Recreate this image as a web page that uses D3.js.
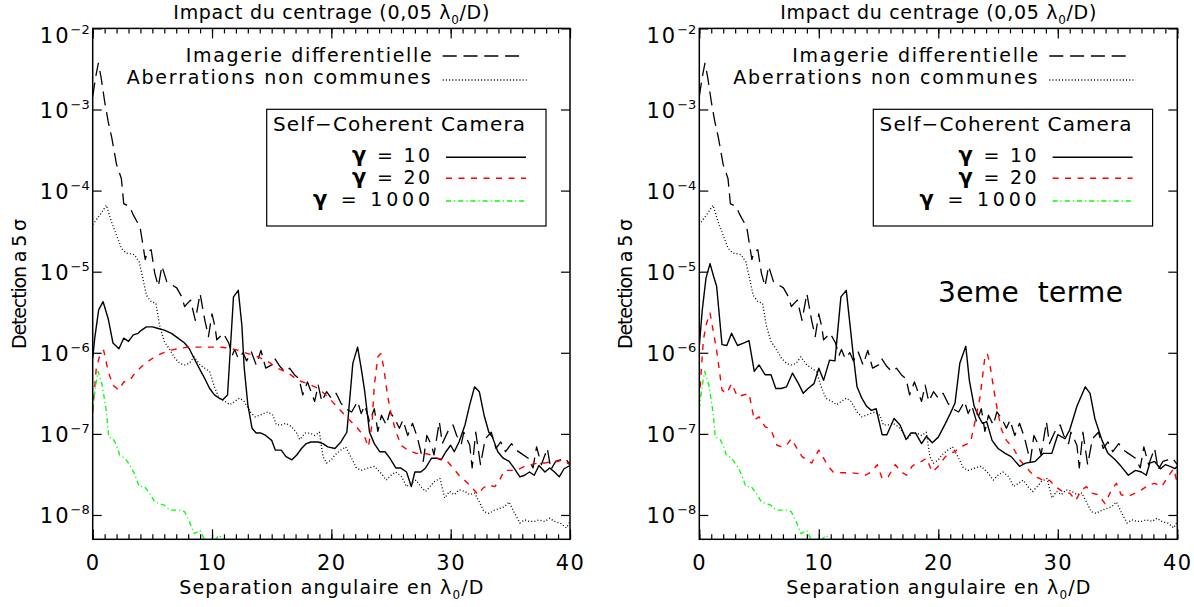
<!DOCTYPE html>
<html><head><meta charset="utf-8">
<script src="https://cdn.jsdelivr.net/npm/d3@7/dist/d3.min.js"></script>
<style>
body{margin:0;background:#fff}
text{font-family:"DejaVu Sans",sans-serif;fill:#000}
</style>
</head><body>
<svg id="c" width="1194" height="607" xmlns="http://www.w3.org/2000/svg"></svg>
<script>
// ---------------- DATA (values stored as log10 of detection level) ----------------
const xMajorTicks = [0, 10, 20, 30, 40];
const xTickLabels = ["0", "10", "20", "30", "40"];
const yDecades = [-2, -3, -4, -5, -6, -7, -8];
const yTickBase = "10";
const yTickExp = ["\u22122", "\u22123", "\u22124", "\u22125", "\u22126", "\u22127", "\u22128"];

// Imagerie differentielle (dashed black) - same in both panels
const diffX = [0,0.25,0.47,0.7,1.0,1.3,1.6,2.0,2.4,2.6,3.1,3.4,3.97,4.1,4.4,4.6,4.9,5.2,5.5,5.8,6.2,6.6,7.04,7.46,7.7,8.2,8.6,9.0,9.4,9.7,10.0,10.25,10.4,10.95,11.4,11.7,11.9,12.2,12.6,12.9,13.3,13.7,14.1,14.5,15.0,15.25,15.7,16.1,16.5,16.9,17.3,17.6,18.0,18.3,18.6,18.9,19.2,19.6,20.0,20.4,20.8,21.2,21.7,22.2,22.5,22.8,23.2,23.6,23.9,24.2,24.6,24.9,25.3,25.7,26.0,26.4,26.8,27.2,27.7,28.0,28.4,28.6,29.05,29.3,29.8,30.2,30.5,30.9,31.1,31.6,31.8,32.1,32.5,32.9,33.4,33.8,34.2,34.6,35.1,35.5,35.9,36.5,36.9,37.2,37.6,38.1,38.4,38.8,39.2,39.6,40];
const diffLog = [-2.84,-2.6,-2.43,-2.6,-2.9,-3.15,-3.35,-3.68,-3.85,-4.16,-4.2,-4.3,-4.45,-4.57,-4.85,-4.75,-4.73,-5.02,-5.18,-4.93,-5.12,-5.16,-5.2,-5.31,-5.43,-5.35,-5.6,-5.27,-5.6,-5.8,-5.52,-5.68,-5.84,-5.76,-5.88,-6.03,-5.96,-6.07,-6.0,-6.1,-5.99,-6.15,-5.97,-6.19,-6.15,-6.07,-6.17,-6.23,-6.19,-6.27,-6.32,-6.52,-6.36,-6.48,-6.6,-6.4,-6.6,-6.48,-6.56,-6.5,-6.62,-6.69,-6.73,-6.6,-6.75,-6.65,-6.85,-6.69,-6.97,-6.77,-6.89,-6.73,-6.81,-6.93,-6.83,-7.02,-6.87,-7.04,-7.34,-7.02,-7.14,-7.26,-6.85,-7.12,-6.96,-6.89,-7.02,-7.12,-6.98,-7.14,-7.42,-6.98,-7.38,-7.06,-6.98,-7.18,-7.1,-7.22,-7.12,-7.2,-7.24,-7.3,-7.42,-7.16,-7.38,-7.18,-7.44,-7.34,-7.32,-7.3,-7.38];

// Aberrations non communes (dotted black) - same in both panels
const ncpaX = [0,0.6,1.15,1.56,2.0,2.4,2.8,3.5,3.9,4.2,4.5,4.9,5.3,5.6,6.0,6.45,6.9,7.3,7.7,8.1,8.5,9.0,9.4,9.8,10.2,10.6,11.1,11.5,11.9,12.3,12.7,13.2,13.6,14.0,14.3,14.7,15.1,15.4,15.8,16.2,16.65,17.1,17.35,17.8,18.2,18.6,19.0,19.3,19.6,20.0,20.3,20.8,21.2,21.7,22.1,22.5,23.1,23.6,24.2,24.6,25.0,25.4,25.9,26.3,26.7,27.1,27.5,27.9,28.4,28.6,29.1,29.5,29.9,30.3,30.7,31.2,31.6,32.0,32.4,32.8,33.2,33.7,34.1,34.5,34.9,35.3,35.8,36.2,36.6,37.0,37.4,37.9,38.3,38.7,39.2,39.7,40];
const ncpaLog = [-4.42,-4.3,-4.18,-4.38,-4.55,-4.71,-4.77,-4.79,-4.88,-5.08,-5.29,-5.37,-5.39,-5.66,-5.86,-5.96,-6.07,-6.13,-6.15,-6.13,-6.05,-6.15,-6.19,-6.23,-6.42,-6.56,-6.6,-6.64,-6.6,-6.56,-6.6,-6.73,-6.79,-6.77,-6.75,-6.73,-6.77,-6.89,-6.89,-6.87,-6.91,-6.99,-7.07,-6.99,-6.99,-7.02,-6.98,-7.28,-7.36,-7.32,-7.26,-7.2,-7.16,-7.3,-7.42,-7.45,-7.42,-7.4,-7.49,-7.57,-7.51,-7.47,-7.53,-7.65,-7.61,-7.57,-7.65,-7.71,-7.63,-7.59,-7.55,-7.79,-7.71,-7.75,-7.69,-7.71,-7.75,-7.73,-7.84,-7.96,-7.98,-7.94,-7.92,-7.9,-7.84,-7.96,-8.1,-8.06,-8.08,-8.08,-8.06,-8.08,-8.04,-8.08,-8.1,-8.16,-8.08];

// SCC gamma = 1000 (green dash-dot) - same in both panels
const g1000X = [0,0.25,0.45,0.8,1.15,1.34,1.7,2.0,2.26,2.7,3.1,3.5,3.9,4.35,4.8,5.2,5.6,6.0,6.45,6.9,7.3,7.7,8.1,8.5,9.0,9.25,9.6,10.0,10.4,10.6,10.9,11.3,12.0];
const g1000Log = [-6.69,-6.4,-6.23,-6.4,-6.73,-7.04,-7.06,-7.14,-7.26,-7.3,-7.38,-7.49,-7.65,-7.65,-7.74,-7.84,-7.86,-7.88,-7.94,-7.94,-7.94,-7.96,-8.08,-8.23,-8.19,-8.27,-8.4,-8.35,-8.28,-8.25,-8.3,-8.5,-8.7];

// Left panel: SCC gamma = 10 (solid black)
const g10LeftX = [0,0.17,0.5,0.87,1.3,1.7,2.2,2.6,3.0,3.4,3.8,4.1,4.5,5.0,5.5,6.0,6.6,7.15,7.7,8.1,8.5,9.0,9.4,9.8,10.2,10.6,10.9,11.3,11.8,12.2,12.5,12.7,13.0,13.35,13.7,14.1,14.5,15.0,15.3,15.8,16.2,16.7,17.1,17.5,17.9,18.3,18.9,19.3,19.7,20.3,20.8,21.3,21.8,22.2,22.5,22.8,23.2,23.6,24.05,24.5,24.9,25.4,25.8,26.3,26.7,27.0,27.5,27.9,28.4,28.8,29.2,29.6,30.0,30.3,30.7,31.2,31.6,32.0,32.4,32.8,33.2,33.5,33.95,34.4,34.9,35.3,35.8,36.2,36.6,37.0,37.4,37.9,38.3,38.7,39.1,39.5,40];
const g10LeftLog = [-6.07,-5.82,-5.47,-5.37,-5.58,-5.88,-5.95,-5.82,-5.86,-5.78,-5.76,-5.72,-5.68,-5.68,-5.7,-5.72,-5.76,-5.82,-5.88,-5.95,-6.07,-6.21,-6.32,-6.44,-6.52,-6.56,-6.58,-6.52,-5.31,-5.23,-5.66,-6.19,-6.64,-6.93,-6.99,-6.99,-7.02,-7.08,-7.2,-7.2,-7.28,-7.32,-7.26,-7.18,-7.12,-7.1,-7.1,-7.12,-7.16,-7.18,-7.1,-6.98,-6.13,-5.93,-6.19,-6.48,-6.98,-7.12,-7.22,-7.22,-7.3,-7.42,-7.42,-7.47,-7.65,-7.47,-7.47,-7.42,-7.3,-7.3,-7.32,-7.22,-7.14,-7.22,-7.1,-6.89,-6.64,-6.42,-6.48,-6.77,-6.98,-7.04,-7.22,-7.3,-7.34,-7.42,-7.53,-7.51,-7.47,-7.51,-7.39,-7.47,-7.42,-7.47,-7.53,-7.43,-7.39];

// Left panel: SCC gamma = 20 (dashed red)
const g20LeftX = [0,0.3,0.6,0.92,1.3,1.7,2.2,2.6,3.1,3.5,4.1,4.6,5.2,5.75,6.45,7.15,8.0,8.8,9.7,10.5,11.35,12.2,13.0,13.85,14.7,15.5,16.4,17.2,18.0,18.9,19.7,20.5,21.4,22.2,22.8,23.1,23.4,23.6,23.9,24.15,24.4,24.7,25.0,25.4,25.85,26.4,27.1,27.8,28.4,28.9,29.6,30.2,30.7,31.3,31.7,32.3,32.7,33.1,33.7,34.1,34.5,34.9,35.5,36.2,36.7,37.3,37.9,38.4,39.0,39.4,39.8,40];
const g20LeftLog = [-6.73,-6.19,-6.03,-5.97,-6.23,-6.4,-6.46,-6.36,-6.34,-6.26,-6.17,-6.11,-6.05,-6.01,-5.97,-5.95,-5.93,-5.93,-5.93,-5.93,-5.94,-5.97,-6.01,-6.05,-6.11,-6.19,-6.25,-6.34,-6.38,-6.44,-6.54,-6.67,-6.81,-6.93,-7.04,-7.16,-6.89,-6.4,-6.05,-6.01,-6.19,-6.52,-6.75,-6.97,-7.14,-7.2,-7.24,-7.24,-7.26,-7.3,-7.32,-7.42,-7.51,-7.59,-7.65,-7.75,-7.67,-7.63,-7.65,-7.57,-7.45,-7.45,-7.45,-7.4,-7.38,-7.36,-7.36,-7.34,-7.34,-7.32,-7.36,-7.38];

// Right panel (3eme terme): SCC gamma = 10 (solid black)
const g10RightX = [0,0.25,0.56,0.9,1.2,1.45,1.9,2.3,2.7,3.2,3.7,4.16,4.6,5.0,5.5,6.0,6.4,6.84,7.3,7.8,8.3,8.7,9.1,9.6,10.0,10.4,10.9,11.35,11.85,12.3,12.6,12.9,13.2,13.6,14.0,14.4,14.8,15.3,15.7,16.3,16.8,17.3,17.7,18.1,18.6,19.0,19.5,20.0,20.6,21.0,21.4,21.8,22.3,22.6,23.0,23.4,23.7,24.05,24.5,25.0,25.6,26.1,26.8,27.3,28.1,28.8,29.5,30.0,30.6,31.0,31.6,32.3,32.7,33.1,33.7,34.2,34.8,35.3,35.9,36.5,37.0,37.4,37.7,38.1,38.6,39.0,39.4,39.8,40];
const g10RightLog = [-5.92,-5.47,-5.08,-4.9,-5.06,-5.18,-5.9,-5.91,-5.76,-5.91,-5.88,-5.85,-6.23,-6.15,-6.27,-6.27,-6.44,-6.44,-6.42,-6.25,-6.38,-6.5,-6.44,-6.38,-6.19,-6.34,-6.09,-6.1,-5.31,-5.23,-5.64,-6.05,-6.42,-6.56,-6.66,-6.71,-6.69,-7.01,-7.01,-6.81,-6.89,-7.07,-6.99,-6.99,-7.12,-7.03,-7.11,-7.04,-6.87,-6.75,-6.62,-6.13,-5.92,-6.34,-6.66,-6.79,-6.87,-6.85,-7.08,-7.18,-7.24,-7.28,-7.4,-7.36,-7.34,-7.24,-7.24,-7.01,-7.06,-6.95,-6.66,-6.42,-6.5,-6.81,-7.08,-7.24,-7.32,-7.4,-7.51,-7.45,-7.47,-7.51,-7.36,-7.34,-7.43,-7.38,-7.4,-7.43,-7.4];

// Right panel (3eme terme): SCC gamma = 20 (dashed red)
const g20RightX = [0,0.34,0.6,0.9,1.2,1.45,1.9,2.3,2.7,3.2,3.7,4.16,4.6,5.0,5.5,6.0,6.5,6.95,7.3,7.7,8.1,8.6,9.0,9.4,10.0,10.4,10.8,11.2,11.9,12.75,13.3,13.9,14.4,14.9,15.3,15.8,16.4,16.9,17.35,17.8,18.2,18.6,19.0,19.5,20.0,20.6,21.0,21.4,21.8,22.2,22.7,23.1,23.5,23.9,24.1,24.3,24.7,25.0,25.3,25.7,26.3,26.8,27.3,27.7,28.1,28.5,28.9,29.3,29.8,30.2,30.6,31.0,31.5,32.0,32.4,32.8,33.4,33.95,34.5,34.9,35.3,35.9,36.5,37.0,37.6,38.1,38.7,39.2,39.7,40];
const g20RightLog = [-6.58,-5.84,-5.64,-5.51,-5.76,-5.97,-6.46,-6.5,-6.38,-6.54,-6.52,-6.5,-6.83,-6.79,-6.91,-6.95,-7.14,-7.16,-7.14,-7.06,-7.16,-7.28,-7.32,-7.36,-7.2,-7.3,-7.4,-7.47,-7.48,-7.48,-7.49,-7.51,-7.47,-7.38,-7.55,-7.53,-7.38,-7.47,-7.51,-7.4,-7.36,-7.34,-7.3,-7.47,-7.4,-7.28,-7.24,-7.22,-7.16,-7.14,-7.1,-6.83,-6.54,-6.05,-6.01,-6.13,-6.5,-6.75,-6.95,-7.08,-7.18,-7.32,-7.4,-7.47,-7.53,-7.55,-7.59,-7.57,-7.65,-7.69,-7.73,-7.73,-7.82,-7.69,-7.65,-7.73,-7.75,-7.86,-7.69,-7.61,-7.75,-7.77,-7.73,-7.69,-7.63,-7.61,-7.65,-7.53,-7.43,-7.61];

const legendTop = ["Imagerie differentielle", "Aberrations non communes"];
const legendBoxTitle = "Self\u2212Coherent Camera";
const gammaLabels = ["\u03b3 = 10", "\u03b3 = 20", "\u03b3 = 1000"];

// ---------------- DRAWING ----------------
const svg = d3.select("#c");
const yTop = 28.4, yBot = 539.3;
const minorTicks = d3.range(0, 41, 1);
const DASH_DIFF = "14,6.8", DOT = "1,2.2", DASH_RED = "6,6.5", DASHDOT = "5,3,1.2,3";

const panels = [
  {x0: 92.7, x1: 570, g10: [g10LeftX, g10LeftLog], g20: [g20LeftX, g20LeftLog], extra: null},
  {x0: 699.3, x1: 1177.3, g10: [g10RightX, g10RightLog], g20: [g20RightX, g20RightLog], extra: "3eme\u00a0\u00a0terme"}
];

const defs = svg.append("defs");

panels.forEach((p, i) => {
  const x = d3.scaleLinear().domain([0, 40]).range([p.x0, p.x1]);
  const y = d3.scaleLog().domain([Math.pow(10, -8.3), 1e-2]).range([yBot, yTop]);
  const g = svg.append("g");
  const cid = "clip" + i;
  defs.append("clipPath").attr("id", cid).append("rect")
    .attr("x", p.x0).attr("y", yTop).attr("width", p.x1 - p.x0).attr("height", yBot - yTop);

  const line = d3.line().x(d => x(d[0])).y(d => y(Math.pow(10, d[1])));
  const series = [
    {xs: diffX, ls: diffLog, color: "#000", dash: DASH_DIFF, w: 1.3},
    {xs: ncpaX, ls: ncpaLog, color: "#000", dash: DOT, w: 1.3},
    {xs: p.g10[0], ls: p.g10[1], color: "#000", dash: null, w: 1.4},
    {xs: p.g20[0], ls: p.g20[1], color: "#ff0000", dash: DASH_RED, w: 1.4},
    {xs: g1000X, ls: g1000Log, color: "#00ff00", dash: DASHDOT, w: 1.3}
  ];
  const cg = g.append("g").attr("clip-path", `url(#${cid})`);
  series.forEach(s => {
    cg.append("path").attr("d", line(d3.zip(s.xs, s.ls)))
      .attr("fill", "none").attr("stroke", s.color).attr("stroke-width", s.w)
      .attr("stroke-dasharray", s.dash).attr("stroke-linejoin", "round");
  });

  // axes ticks (inward)
  const styleAxis = sel => { sel.select(".domain").remove(); sel.selectAll("line").attr("stroke", "#000").attr("stroke-width", 1.2); };
  g.append("g").attr("transform", `translate(0,${yBot})`)
    .call(d3.axisBottom(x).tickValues(minorTicks).tickSize(-5).tickFormat("")).call(styleAxis);
  g.append("g").attr("transform", `translate(0,${yTop})`)
    .call(d3.axisTop(x).tickValues(minorTicks).tickSize(-5).tickFormat("")).call(styleAxis);
  g.append("g").attr("transform", `translate(0,${yTop})`)
    .call(d3.axisTop(x).tickValues(xMajorTicks).tickSize(-10).tickFormat("")).call(styleAxis);
  const xb = g.append("g").attr("transform", `translate(0,${yBot})`)
    .call(d3.axisBottom(x).tickValues(xMajorTicks).tickSize(-10).tickPadding(16)
      .tickFormat((d, k) => xTickLabels[k])).call(styleAxis);
  xb.selectAll("text").attr("font-size", 21).attr("font-family", "DejaVu Sans").attr("fill", "#000").attr("letter-spacing", 1.5);

  const yVals = yDecades.map(e => Math.pow(10, e));
  g.append("g").attr("transform", `translate(${p.x0},0)`)
    .call(d3.axisLeft(y).tickValues(yVals).tickSize(-9).tickFormat("")).call(styleAxis);
  g.append("g").attr("transform", `translate(${p.x1},0)`)
    .call(d3.axisRight(y).tickValues(yVals).tickSize(-9).tickFormat("")).call(styleAxis);

  // y tick labels
  yDecades.forEach((e, k) => {
    const yy = y(Math.pow(10, e)) + (k === 0 ? 15 : 8.5);
    const t = g.append("text").attr("x", p.x0 - 3).attr("y", yy).attr("text-anchor", "end").attr("font-size", 21);
    t.append("tspan").attr("letter-spacing", 2).text(yTickBase);
    t.append("tspan").attr("font-size", 13).attr("dy", -9).text(yTickExp[k]);
  });

  // frame
  g.append("rect").attr("x", p.x0).attr("y", yTop).attr("width", p.x1 - p.x0).attr("height", yBot - yTop)
    .attr("fill", "none").attr("stroke", "#000").attr("stroke-width", 1.5);

  const cx = (p.x0 + p.x1) / 2;
  // title
  const tt = g.append("text").attr("x", cx).attr("y", 19).attr("text-anchor", "middle").attr("font-size", 19)
    .attr("textLength", 316).attr("lengthAdjust", "spacing");
  tt.append("tspan").text("Impact du centrage (0,05 \u03bb");
  tt.append("tspan").attr("font-size", 12).attr("dy", 5).text("0");
  tt.append("tspan").attr("dy", -5).text("/D)");

  // x label
  const xl = g.append("text").attr("x", cx).attr("y", 594).attr("text-anchor", "middle").attr("font-size", 19)
    .attr("textLength", 304).attr("lengthAdjust", "spacing");
  xl.append("tspan").text("Separation angulaire en \u03bb");
  xl.append("tspan").attr("font-size", 12).attr("dy", 5).text("0");
  xl.append("tspan").attr("dy", -5).text("/D");

  // y label
  g.append("text").attr("transform", `translate(${p.x0 - 67},284) rotate(-90)`)
    .attr("text-anchor", "middle").attr("font-size", 19).attr("textLength", 130).attr("lengthAdjust", "spacing")
    .text("Detection a 5 \u03c3");

  // legend (top, unboxed)
  const L = p.x0;
  g.append("text").attr("x", L + 339).attr("y", 62).attr("text-anchor", "end").attr("font-size", 19)
    .attr("textLength", 246).attr("lengthAdjust", "spacing").text(legendTop[0]);
  g.append("text").attr("x", L + 338).attr("y", 84).attr("text-anchor", "end").attr("font-size", 19)
    .attr("textLength", 304).attr("lengthAdjust", "spacing").text(legendTop[1]);
  g.append("line").attr("x1", L + 350).attr("x2", L + 426.6).attr("y1", 56).attr("y2", 56)
    .attr("stroke", "#000").attr("stroke-width", 1.3).attr("stroke-dasharray", DASH_DIFF);
  g.append("line").attr("x1", L + 350).attr("x2", L + 434).attr("y1", 80).attr("y2", 80)
    .attr("stroke", "#000").attr("stroke-width", 1.3).attr("stroke-dasharray", DOT);

  // legend box
  g.append("rect").attr("x", L + 174).attr("y", 109.3).attr("width", 279.3).attr("height", 116.7)
    .attr("fill", "#fff").attr("stroke", "#000").attr("stroke-width", 1.2);
  g.append("text").attr("x", L + 180.3).attr("y", 131).attr("font-size", 20)
    .attr("textLength", 252).attr("lengthAdjust", "spacing").text(legendBoxTitle);
  const gy = [162, 184, 205.7], ly = [157.3, 178.3, 201];
  const gw = [78, 78, 117];
  const lcol = ["#000", "#ff0000", "#00ff00"], ldash = [null, DASH_RED, DASHDOT];
  gammaLabels.forEach((s, k) => {
    const t = g.append("text").attr("x", L + 337.3).attr("y", gy[k]).attr("text-anchor", "end").attr("font-size", 19)
      .attr("textLength", gw[k]).attr("lengthAdjust", "spacing");
    t.append("tspan").attr("font-weight", "bold").attr("font-size", 21).text(s.slice(0, 1));
    t.append("tspan").text(s.slice(1));
    g.append("line").attr("x1", L + 353.3).attr("x2", L + 433.3).attr("y1", ly[k]).attr("y2", ly[k])
      .attr("stroke", lcol[k]).attr("stroke-width", 1.4).attr("stroke-dasharray", ldash[k]);
  });

  if (p.extra) {
    g.append("text").attr("x", 938).attr("y", 302).attr("font-size", 28)
      .attr("textLength", 185).attr("lengthAdjust", "spacing").style("white-space", "pre").text(p.extra);
  }
});
</script>
</body></html>
